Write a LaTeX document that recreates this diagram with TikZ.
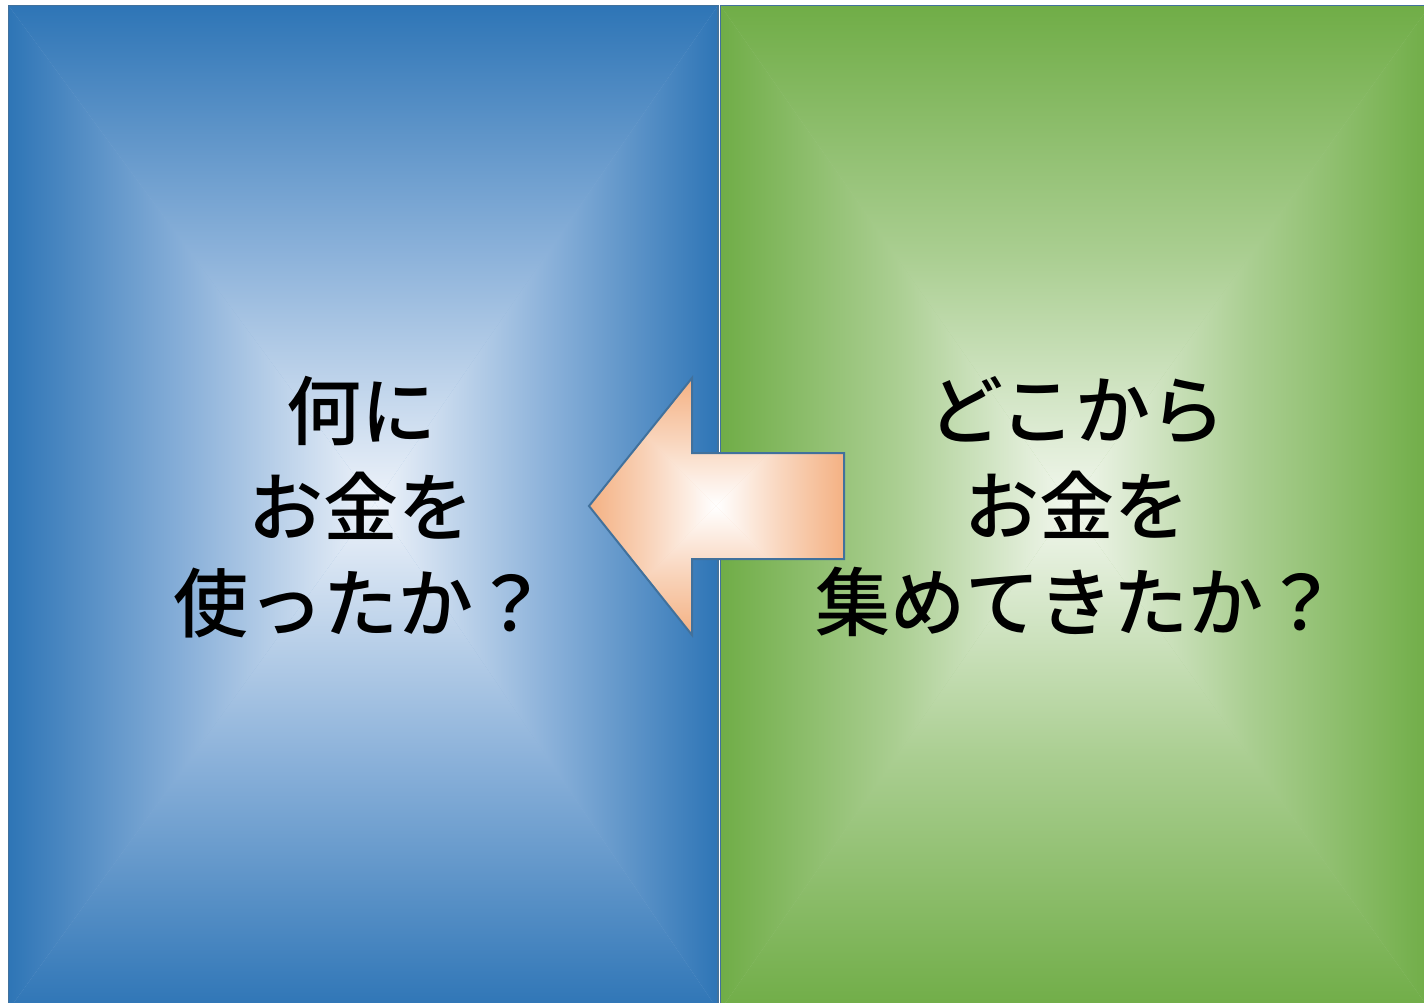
\documentclass[tikz,border=0pt]{standalone}
\usepackage{fontspec}
\newfontfamily\jp{Noto Sans CJK JP}[UprightFont=* Medium]
\definecolor{bEdge}{RGB}{46,117,182}
\definecolor{bMid}{RGB}{140,178,218}
\definecolor{bCen}{RGB}{238,243,250}
\definecolor{gEdge}{RGB}{112,173,71}
\definecolor{gMid}{RGB}{170,206,145}
\definecolor{gCen}{RGB}{242,247,238}
\definecolor{oEdge}{RGB}{244,177,131}
\definecolor{oMid}{RGB}{249,214,190}
\definecolor{oCen}{RGB}{255,255,255}
\definecolor{lineBlue}{RGB}{65,113,156}
\newcommand\rectgrad[9]{%
  \fill[#8] (#1,#2) rectangle (#3,#4);
  \shade[top color=#7, bottom color=#9, middle color=#8] (#1,#2) -- (#3,#2) -- (#5,#6) -- cycle;
  \shade[top color=#9, bottom color=#7, middle color=#8] (#1,#4) -- (#3,#4) -- (#5,#6) -- cycle;
  \shade[left color=#7, right color=#9, middle color=#8] (#1,#2) -- (#1,#4) -- (#5,#6) -- cycle;
  \shade[left color=#9, right color=#7, middle color=#8] (#3,#2) -- (#3,#4) -- (#5,#6) -- cycle;
}
\tikzset{
  panel/.style={draw=lineBlue, line width=1.5pt},
  qtext/.style={align=center, font=\jp\fontsize{75}{96}\selectfont, text=black, inner sep=0pt},
  blockarrow/.style={draw=lineBlue, line width=2pt, line join=miter}
}
\begin{document}
\begin{tikzpicture}[x=1pt, y=-1pt]
\useasboundingbox (0,0) rectangle (1424,1002);
\fill[white] (0,0) rectangle (1424,1002);
% left panel
\begin{scope}
  \clip (8.5,5.5) rectangle (718,1010);
  \rectgrad{8.5}{5.5}{718}{1010}{375}{503}{bEdge}{bMid}{bCen}
\end{scope}
\draw[panel] (718,1010) -- (718,5.5) -- (8.5,5.5) -- (8.5,1010);
% right panel
\begin{scope}
  \clip (720.5,5.5) rectangle (1430,1010);
  \rectgrad{720.5}{5.5}{1430}{1010}{1070}{505}{gEdge}{gMid}{gCen}
\end{scope}
\draw[panel] (720.5,1010) -- (720.5,5.5) -- (1430,5.5);
% block arrow
\begin{scope}
  \clip (589,506) -- (692,378) -- (692,453) -- (844,453) -- (844,559) -- (692,559) -- (692,635) -- cycle;
  \rectgrad{589}{378}{844}{635}{716}{506}{oEdge}{oMid}{oCen}
\end{scope}
\draw[blockarrow] (589,506) -- (692,378) -- (692,453) -- (844,453) -- (844,559) -- (692,559) -- (692,635) -- cycle;
% texts
\node[qtext] (use) at (361,507) {何に\\お金を\\使ったか？};
\node[qtext] (src) at (1077,507) {どこから\\お金を\\集めてきたか？};
\end{tikzpicture}
\end{document}
